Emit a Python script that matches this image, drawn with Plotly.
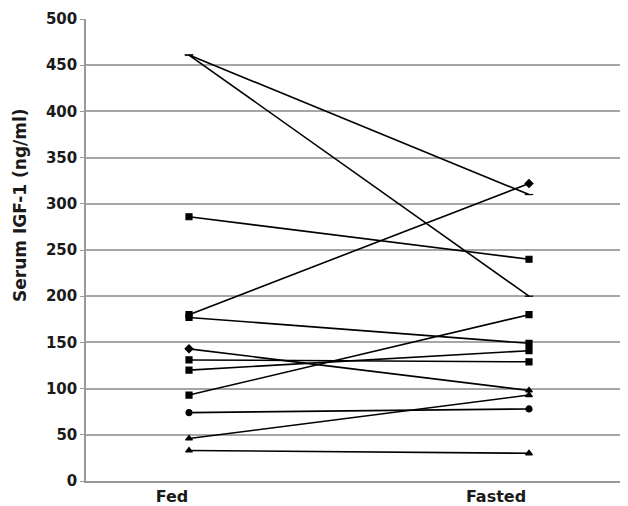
import plotly.graph_objects as go

conditions = ["Fed", "Fasted"]
fed = [461, 461, 286, 180, 177, 143, 131, 120, 93, 74, 46, 33]
fasted = [310, 200, 240, 322, 149, 98, 129, 141, 180, 78, 93, 30]
fed_sym = ["line-ew", "line-ew", "square", "square", "square", "diamond",
           "square", "square", "square", "circle", "triangle-up", "triangle-up"]
fasted_sym = ["line-ew", "line-ew", "square", "diamond", "square", "triangle-up",
              "square", "square", "square", "circle", "triangle-up", "triangle-up"]
y_ticks = [0, 50, 100, 150, 200, 250, 300, 350, 400, 450, 500]

fig = go.Figure()
for a, b, sa, sb in zip(fed, fasted, fed_sym, fasted_sym):
    fig.add_trace(go.Scatter(
        x=[0, 1], y=[a, b], mode="lines+markers",
        line=dict(color="black", width=1.6),
        marker=dict(symbol=[sa, sb], size=6, color="black",
                    line=dict(color="black", width=1.2)),
        showlegend=False, hoverinfo="skip"))

# page has an 8px body margin; compensate so plot area matches reference
OFF = 8
W, H = 628 - OFF, 506 - OFF
L, R, T, B = 86 - OFF, 0, 19 - OFF, 25
pw = W - L - R
ph = H - T - B
# data x=0 at page pixel 189, x=1 at page pixel 529
ppu = 340.0
x0 = -(189 - 86) / ppu
x1 = x0 + pw / ppu

fig.update_layout(
    width=W, height=H,
    margin=dict(l=L, r=R, t=T, b=B, autoexpand=False),
    paper_bgcolor="white", plot_bgcolor="white",
    font=dict(family="DejaVu Sans, sans-serif", color="#1a1a1a"),
    xaxis=dict(range=[x0, x1], showgrid=False, zeroline=False,
               automargin=False,
               tickvals=[(172 - 189) / ppu, (496 - 189) / ppu],
               ticktext=conditions, ticks="", ticklabelstandoff=0,
               tickfont=dict(size=16, weight="bold"),
               showline=True, linecolor="#999999", linewidth=1.5),
    yaxis=dict(range=[0, 500], tickvals=y_ticks, showgrid=True,
               automargin=False,
               gridcolor="#a6a6a6", gridwidth=1.5, zeroline=False,
               showline=True, linecolor="#999999", linewidth=1.5,
               ticks="outside", ticklen=4, tickcolor="#999999", tickwidth=1.2,
               tickfont=dict(size=15, weight="bold")),
    annotations=[dict(text="Serum IGF-1 (ng/ml)", textangle=-90,
                      xref="paper", yref="paper",
                      x=(20 - 86) / pw, y=(481 - 205) / ph,
                      xanchor="center", yanchor="middle", showarrow=False,
                      font=dict(size=17, weight="bold", color="#1a1a1a"))],
)
fig.write_html("out.html")
